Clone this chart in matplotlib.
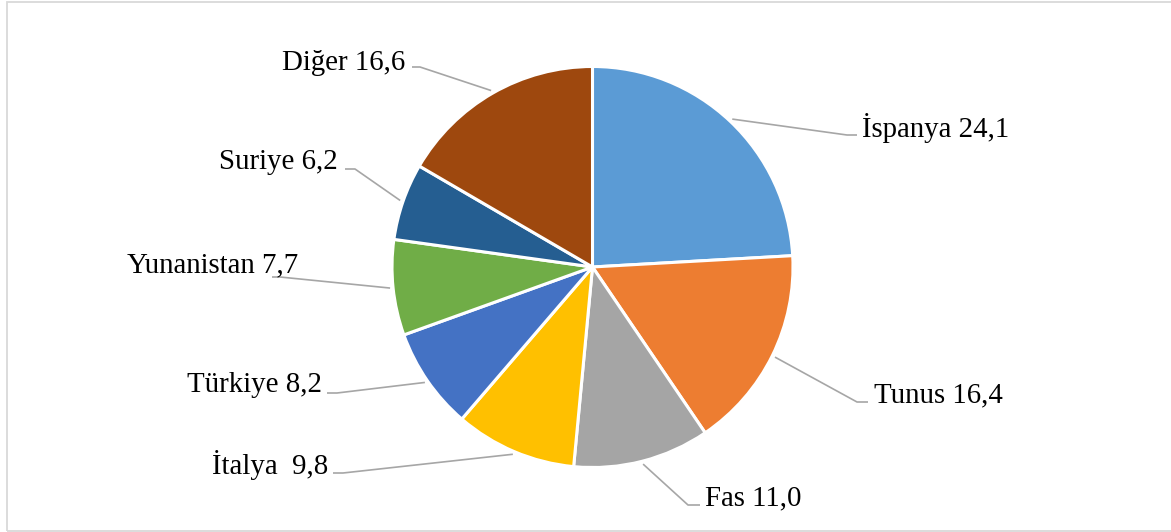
import matplotlib.pyplot as plt
import numpy as np
from matplotlib.patches import Rectangle

countries = ['İspanya', 'Tunus', 'Fas', 'İtalya ', 'Türkiye', 'Yunanistan', 'Suriye', 'Diğer']
shares = [24.1, 16.4, 11.0, 9.8, 8.2, 7.7, 6.2, 16.6]
colors = ['#5B9BD5', '#ED7D31', '#A5A5A5', '#FFC000', '#4472C4', '#70AD47', '#255E91', '#9E480E']

W, H = 1171, 532
# label layout in pixel coords (from top): text x, baseline y, align, line y, bend x, end x
label_layout = [
    (862, 137, 'left', 135, 847, 857),
    (874, 402, 'left', 402, 857, 868),
    (705, 505, 'left', 505, 688, 700),
    (328, 474, 'right', 473, 343, 333),
    (322, 392, 'right', 393, 337, 327),
    (298, 272, 'right', 277, 280, 272),
    (338, 169, 'right', 169, 355, 345),
    (405, 70, 'right', 67, 420, 412),
]

plt.rcParams['font.family'] = ['Liberation Serif', 'DejaVu Serif']

fig = plt.figure(figsize=(W / 100, H / 100), dpi=100)
ax = fig.add_axes([0, 0, 1, 1])

cx, cy, r = 592.5, H - 267, 200.5
wedges, _ = ax.pie(shares, colors=colors, startangle=90, counterclock=False,
                   center=(cx, cy), radius=r,
                   wedgeprops=dict(edgecolor='white', linewidth=2.2))
ax.set_xlim(0, W)
ax.set_ylim(0, H)
ax.set_aspect('equal')
ax.axis('off')

for w, name, val, lay in zip(wedges, countries, shares, label_layout):
    tx, ty, ha, ly, bx, ex = lay
    mid = np.deg2rad((w.theta1 + w.theta2) / 2)
    sx = cx + (r + 3) * np.cos(mid)
    sy = cy + (r + 3) * np.sin(mid)
    ax.plot([sx, bx, ex], [sy, H - ly, H - ly], color='#A6A6A6', lw=1.2,
            solid_capstyle='butt', zorder=1)
    label = f'{name} {val:.1f}'.replace('.', ',')
    ax.text(tx, H - ty, label, ha=ha, va='baseline', fontsize=20.8, color='black')

ax.add_patch(Rectangle((6.5, 1.5), W + 10, H - 3, fill=False,
                       edgecolor='#D9D9D9', lw=1.3, clip_on=False))

fig.savefig('out.png', dpi=100)
